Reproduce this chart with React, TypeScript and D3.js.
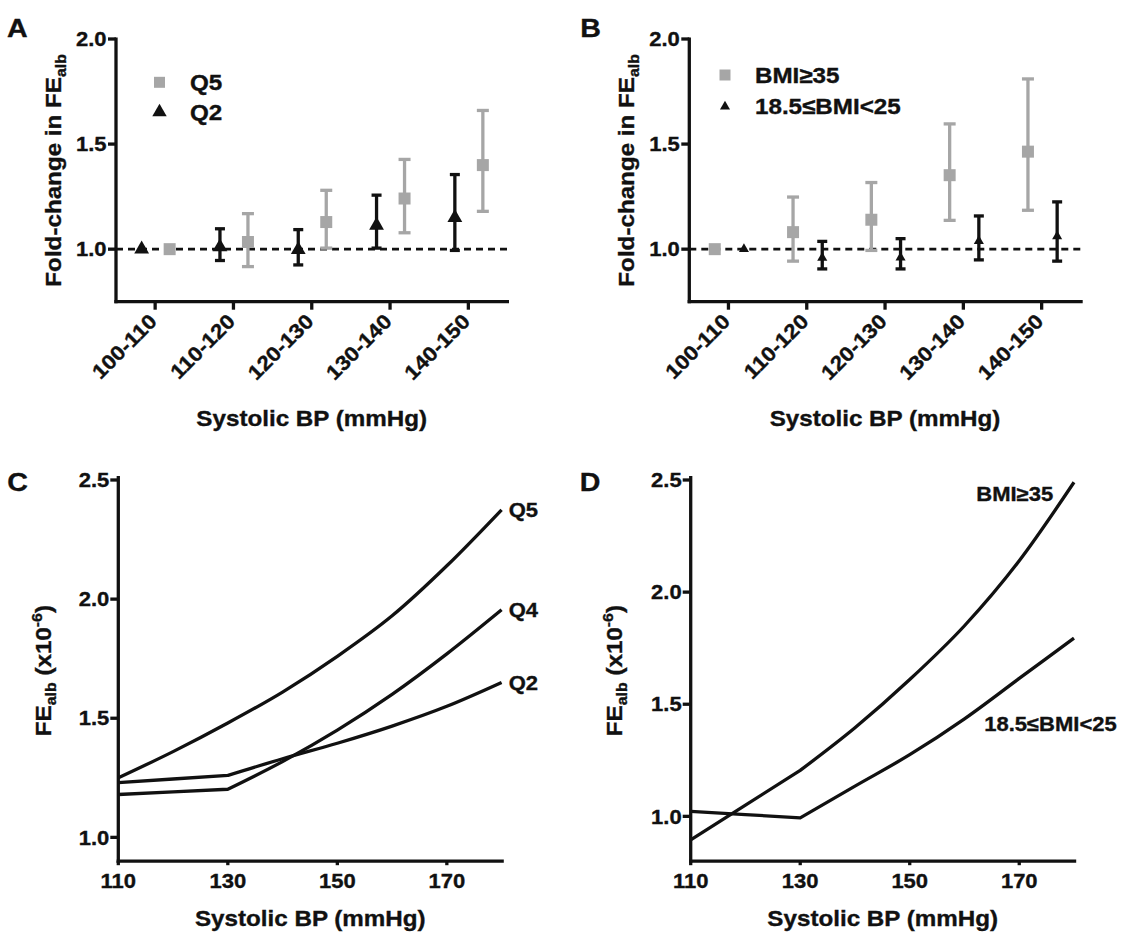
import React from 'react'
import * as d3 from 'd3'

// categories of systolic BP for panels A and B
const categories = ['100-110', '110-120', '120-130', '130-140', '140-150']

// panel A: fold-change by income quintile
const q5Mean = [1.0, 1.034, 1.129, 1.241, 1.4]
const q5Low = [1.0, 0.917, 1.005, 1.078, 1.18]
const q5High = [1.0, 1.169, 1.28, 1.427, 1.66]
const q2Mean = [1.0, 1.01, 0.997, 1.113, 1.15]
const q2Low = [1.0, 0.946, 0.925, 1.005, 0.994]
const q2High = [1.0, 1.097, 1.093, 1.257, 1.355]

// panel B: fold-change by BMI group
const obeseMean = [1.0, 1.081, 1.14, 1.352, 1.464]
const obeseLow = [1.0, 0.943, 0.994, 1.137, 1.185]
const obeseHigh = [1.0, 1.248, 1.317, 1.596, 1.81]
const normalMean = [1.0, 0.959, 0.96, 1.038, 1.061]
const normalLow = [1.0, 0.906, 0.906, 0.949, 0.943]
const normalHigh = [1.0, 1.037, 1.05, 1.158, 1.225]

// panels C and D: modelled FEalb (x10^-6) vs systolic BP
const bp = [110, 120, 130, 140, 150, 160, 170, 180]
const q5Curve = [1.25, 1.36, 1.48, 1.61, 1.76, 1.93, 2.14, 2.375]
const q4Curve = [1.18, 1.191, 1.202, 1.318, 1.45, 1.6, 1.77, 1.955]
const q2Curve = [1.23, 1.245, 1.26, 1.33, 1.395, 1.467, 1.55, 1.65]
const obeseCurve = [0.895, 1.05, 1.205, 1.395, 1.61, 1.85, 2.14, 2.49]
const normalCurve = [1.022, 1.008, 0.993, 1.135, 1.275, 1.435, 1.615, 1.795]

const ticksAB = [1.0, 1.5, 2.0]
const ticksCD = [1.0, 1.5, 2.0, 2.5]
const xTicksCD = [110, 130, 150, 170]

const FONT = '"Liberation Sans", Arial, sans-serif'
const INK = '#111'
const GREY = '#a6a6a6'
const SX = 1.1 // the figure's lettering is a little wider than Arial
const AXW = 3.3

function Txt({ x, y, r = 0, anchor = 'start', size, dy, children }: any) {
  return (
    <g transform={`translate(${x},${y}) rotate(${r}) scale(${SX},1)`}>
      <text
        textAnchor={anchor}
        fontSize={size}
        dy={dy}
        fontFamily={FONT}
        fontWeight="bold"
        fill={INK}
        stroke={INK}
        strokeWidth={0.35}
      >
        {children}
      </text>
    </g>
  )
}

const square = d3.symbol().type(d3.symbolSquare)
const triangle = d3.symbol().type(d3.symbolTriangle)

function ErrorPanel({ axisX, xEnd, letter, series, legend }: any) {
  const yBottom = 301.7
  const x = d3.scaleBand().domain(categories).range([axisX, axisX + 391.5]).padding(0)
  const y = d3.scaleLinear().domain([0.75, 2.0]).range([yBottom, 39])
  const cx = (c: string) => (x(c) as number) + x.bandwidth() / 2

  return (
    <g>
      <Txt x={axisX - 109} y={37} size={26}>{letter}</Txt>
      {/* dashed reference at 1.0 */}
      <line x1={axisX} x2={xEnd - 1} y1={y(1)} y2={y(1)} stroke={INK} strokeWidth={2.6} strokeDasharray="7 5" />
      {series.map((s: any, si: number) => (
        <g key={si}>
          {categories.map((c, i) => {
            const px = cx(c) + s.offset
            const hasBar = s.low[i] !== s.high[i]
            return (
              <g key={c}>
                {hasBar && (
                  <g stroke={s.color} strokeWidth={3.3}>
                    <line x1={px} x2={px} y1={y(s.low[i])} y2={y(s.high[i])} />
                    <line x1={px - s.cap / 2} x2={px + s.cap / 2} y1={y(s.low[i])} y2={y(s.low[i])} />
                    <line x1={px - s.cap / 2} x2={px + s.cap / 2} y1={y(s.high[i])} y2={y(s.high[i])} />
                  </g>
                )}
                <path
                  d={(s.shape === 'square' ? square : triangle).size(s.size)() as string}
                  transform={`translate(${px},${y(s.mean[i])})`}
                  fill={s.color}
                />
              </g>
            )
          })}
        </g>
      ))}
      {/* axes */}
      <line x1={axisX} x2={axisX} y1={37.5} y2={yBottom + AXW / 2} stroke={INK} strokeWidth={AXW} />
      <line x1={axisX - AXW / 2} x2={xEnd} y1={yBottom} y2={yBottom} stroke={INK} strokeWidth={AXW} />
      {ticksAB.map(t => (
        <g key={t}>
          <line x1={axisX - 8} x2={axisX} y1={y(t)} y2={y(t)} stroke={INK} strokeWidth={AXW} />
          <Txt x={axisX - 9.5} y={y(t)} anchor="end" size={20} dy="0.36em">{t.toFixed(1)}</Txt>
        </g>
      ))}
      {categories.map(c => (
        <g key={c}>
          <line x1={cx(c)} x2={cx(c)} y1={yBottom} y2={yBottom + 8} stroke={INK} strokeWidth={AXW} />
          <Txt x={cx(c) + 3} y={yBottom + 21} r={-45} anchor="end" size={20.5}>{c}</Txt>
        </g>
      ))}
      <Txt x={axisX - 55} y={(39 + yBottom) / 2} r={-90} anchor="middle" size={22}>
        Fold-change in FE<tspan fontSize={14.5} dy={5}>alb</tspan>
      </Txt>
      <Txt x={axisX + 195.7} y={426} anchor="middle" size={22}>Systolic BP (mmHg)</Txt>
      {/* legend */}
      {legend.rows.map((row: any, i: number) => (
        <g key={i}>
          <path
            d={(row.shape === 'square' ? square : triangle).size(row.size)() as string}
            transform={`translate(${legend.x},${row.y})`}
            fill={row.color}
          />
          <Txt x={legend.textX} y={row.y} size={22} dy="0.36em">{row.label}</Txt>
        </g>
      ))}
    </g>
  )
}

function CurvePanel({ axisX, yDomain, letter, curves, labels, titleX }: any) {
  const yBottom = 861.2
  const x = d3.scaleLinear().domain([110, 180]).range([axisX, axisX + 383.3])
  const y = d3.scaleLinear().domain(yDomain).range([yBottom, 480])
  const xEnd = axisX + 385.5

  // straight up to the knot, smooth after it
  const curvePath = (vals: number[], knot: number | null) => {
    const pts: [number, number][] = vals.map((v, i) => [x(bp[i]), y(v)])
    const smooth = d3.line().curve(d3.curveMonotoneX)
    if (knot == null) return smooth(pts) as string
    const k = bp.indexOf(knot)
    const head = d3.line()(pts.slice(0, k + 1)) as string
    const tail = smooth(pts.slice(k)) as string
    return head + tail.replace(/^M[^CLQ]*/, '')
  }

  return (
    <g>
      <Txt x={axisX - 111} y={491} size={26}>{letter}</Txt>
      {curves.map((c: any, i: number) => (
        <path
          key={i}
          d={curvePath(c.values, c.knot)}
          fill="none"
          stroke={INK}
          strokeWidth={3.3}
          strokeLinejoin="round"
        />
      ))}
      <line x1={axisX} x2={axisX} y1={476} y2={yBottom + AXW / 2} stroke={INK} strokeWidth={AXW} />
      <line x1={axisX - AXW / 2} x2={xEnd} y1={yBottom} y2={yBottom} stroke={INK} strokeWidth={AXW} />
      {ticksCD.map(t => (
        <g key={t}>
          <line x1={axisX - 8} x2={axisX} y1={y(t)} y2={y(t)} stroke={INK} strokeWidth={AXW} />
          <Txt x={axisX - 9} y={y(t)} anchor="end" size={20} dy="0.36em">{t.toFixed(1)}</Txt>
        </g>
      ))}
      {xTicksCD.map(t => (
        <g key={t}>
          <line x1={x(t)} x2={x(t)} y1={yBottom} y2={yBottom + 4} stroke={INK} strokeWidth={AXW} />
          <Txt x={x(t)} y={888} anchor="middle" size={20}>{t}</Txt>
        </g>
      ))}
      <Txt x={axisX + titleX} y={(480 + yBottom) / 2} r={-90} anchor="middle" size={22}>
        FE<tspan fontSize={14.5} dy={5}>alb</tspan>
        <tspan dy={-5}> (x10</tspan>
        <tspan fontSize={14.5} dy={-9}>-6</tspan>
        <tspan dy={9}>)</tspan>
      </Txt>
      <Txt x={axisX + 192} y={926} anchor="middle" size={22}>Systolic BP (mmHg)</Txt>
      {labels.map((l: any, i: number) => (
        <Txt key={i} x={x(l.at)} y={y(l.v)} anchor={l.anchor} size={20} dy="0.36em">
          {l.text}
        </Txt>
      ))}
    </g>
  )
}

export default function App() {
  return (
    <svg width={1126} height={935} style={{ position: 'absolute', left: 0, top: 0, background: '#fff' }}>
      <rect width={1126} height={935} fill="#fff" />
      <ErrorPanel
        axisX={116}
        xEnd={509}
        letter="A"
        series={[
          { mean: q2Mean, low: q2Low, high: q2High, color: INK, shape: 'triangle', size: 95, offset: -13.5, cap: 10 },
          { mean: q5Mean, low: q5Low, high: q5High, color: GREY, shape: 'square', size: 144, offset: 14.5, cap: 12 },
        ]}
        legend={{
          x: 159.5,
          textX: 190,
          rows: [
            { label: 'Q5', shape: 'square', size: 121, color: GREY, y: 82.3 },
            { label: 'Q2', shape: 'triangle', size: 90, color: INK, y: 112 },
          ],
        }}
      />
      <ErrorPanel
        axisX={689.3}
        xEnd={1082.7}
        letter="B"
        series={[
          { mean: obeseMean, low: obeseLow, high: obeseHigh, color: GREY, shape: 'square', size: 144, offset: -13.7, cap: 12 },
          { mean: normalMean, low: normalLow, high: normalHigh, color: INK, shape: 'triangle', size: 44, offset: 15.5, cap: 10 },
        ]}
        legend={{
          x: 725,
          textX: 755,
          rows: [
            { label: 'BMI≥35', shape: 'square', size: 121, color: GREY, y: 75 },
            { label: '18.5≤BMI<25', shape: 'triangle', size: 44, color: INK, y: 106.5 },
          ],
        }}
      />
      <CurvePanel
        axisX={118.3}
        yDomain={[0.9, 2.5]}
        letter="C"
        titleX={-67}
        curves={[
          { values: q5Curve, knot: null },
          { values: q4Curve, knot: 130 },
          { values: q2Curve, knot: 130 },
        ]}
        labels={[
          { text: 'Q5', at: 181.3, v: q5Curve[7], anchor: 'start' },
          { text: 'Q4', at: 181.3, v: q4Curve[7], anchor: 'start' },
          { text: 'Q2', at: 181.3, v: q2Curve[7], anchor: 'start' },
        ]}
      />
      <CurvePanel
        axisX={690.7}
        yDomain={[0.8, 2.5]}
        letter="D"
        titleX={-69}
        curves={[
          { values: obeseCurve, knot: 130 },
          { values: normalCurve, knot: 130 },
        ]}
        labels={[
          { text: 'BMI≥35', at: 176.2, v: 2.44, anchor: 'end' },
          { text: '18.5≤BMI<25', at: 163.6, v: 1.415, anchor: 'start' },
        ]}
      />
    </svg>
  )
}
